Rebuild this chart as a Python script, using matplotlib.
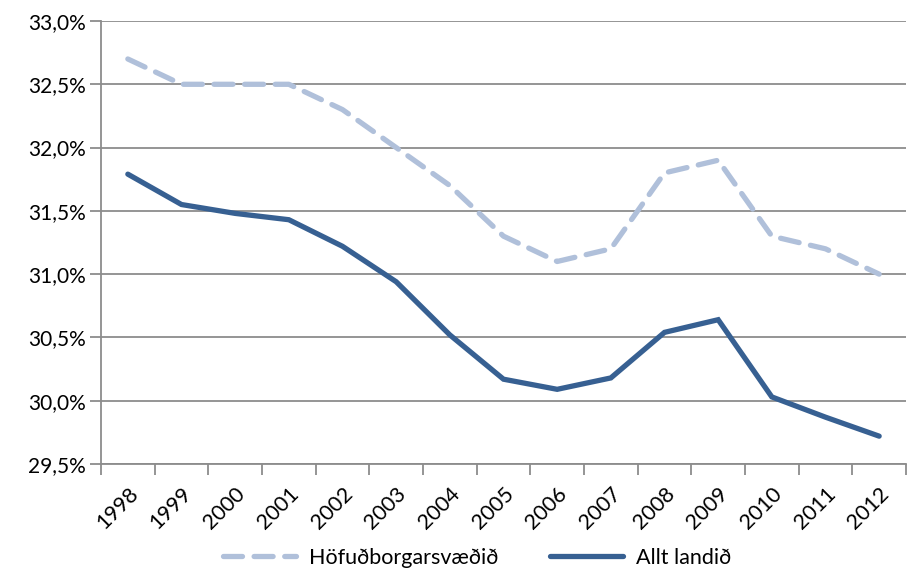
import numpy as np
import matplotlib.pyplot as plt
from matplotlib.ticker import FuncFormatter

years = ['1998', '1999', '2000', '2001', '2002', '2003', '2004', '2005',
         '2006', '2007', '2008', '2009', '2010', '2011', '2012']
hofudborg = [32.7, 32.5, 32.5, 32.5, 32.3, 32.0, 31.7, 31.3,
             31.1, 31.2, 31.8, 31.9, 31.3, 31.2, 31.0]
allt_landid = [31.79, 31.55, 31.48, 31.43, 31.22, 30.94, 30.52, 30.17,
               30.09, 30.18, 30.54, 30.64, 30.03, 29.87, 29.72]

plt.rcParams['font.family'] = ['Lato', 'DejaVu Sans']

fig = plt.figure(figsize=(9.07, 5.78), dpi=100)
ax = fig.add_axes([101/907, 1-464/578, 805/907, 443/578])

x = np.arange(len(years))
ax.plot(x, hofudborg, color='#B0C0DA', lw=3.8, ls=(0, (3.6, 2.2)),
        dash_capstyle='round', solid_joinstyle='round', label='Höfuðborgarsvæðið')
ax.plot(x, allt_landid, color='#376092', lw=3.8, solid_capstyle='round',
        solid_joinstyle='miter', label='Allt landið')

ax.set_xlim(-0.5, len(years)-0.5)
ax.set_ylim(29.5, 33.0)
ax.set_yticks(np.arange(29.5, 33.01, 0.5))
ax.yaxis.set_major_formatter(FuncFormatter(lambda v, p: ('%.1f%%' % v).replace('.', ',')))
ax.grid(axis='y', color='#8C8C8C', lw=1.3)
ax.set_axisbelow(True)

# tick marks sit between categories, labels at category centres
ax.set_xticks(np.arange(-0.5, len(years), 1.0))
ax.set_xticklabels([])
ax.set_xticks(x, minor=True)
ax.set_xticklabels(years, minor=True, rotation=45, ha='right', va='top',
                   rotation_mode='anchor', fontsize=15.5)
ax.tick_params(axis='x', which='minor', length=0, pad=14)
ax.tick_params(axis='x', which='major', length=8, width=1.3, color='#8C8C8C')
ax.tick_params(axis='y', length=8, width=1.3, color='#8C8C8C', labelsize=15, pad=3)

for s in ['top', 'right']:
    ax.spines[s].set_visible(False)
for s in ['left', 'bottom']:
    ax.spines[s].set_color('#8C8C8C')
    ax.spines[s].set_linewidth(1.3)

leg = fig.legend(loc='center', bbox_to_anchor=(0.526, 1-558/578), ncol=2,
                 frameon=False, fontsize=15.5, handlelength=3.4,
                 columnspacing=2.4, handletextpad=0.6)

fig.savefig('out.png', dpi=100)
